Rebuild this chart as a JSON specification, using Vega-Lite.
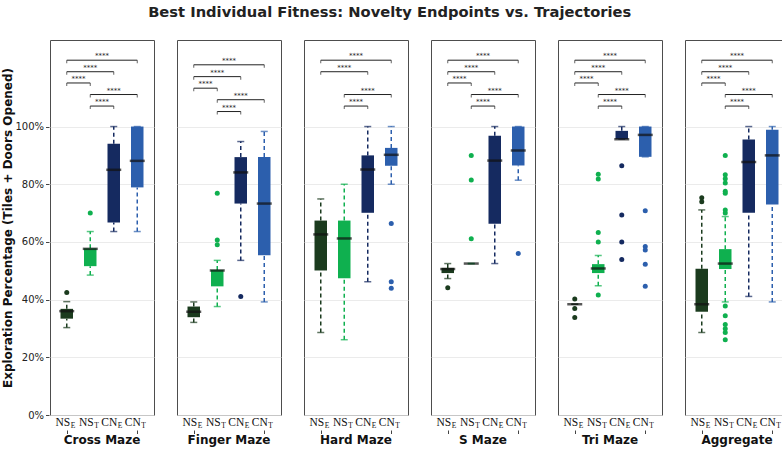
{
  "$schema": "https://vega.github.io/schema/vega-lite/v6.json",
  "padding": {"left": 1, "top": 4, "right": 3, "bottom": 2},
  "title": {"text": "Best Individual Fitness: Novelty Endpoints vs. Trajectories", "font": "DejaVu Sans", "fontSize": 14.7, "fontWeight": "bold", "color": "#222", "anchor": "middle", "offset": 20, "dx": -6},
  "data": {"values": [
    {"kind":"box","maze":"Cross Maze","g":"NS_E","lo":0.303,"q1":0.334,"med":0.360,"q3":0.368,"hi":0.393},
    {"kind":"box","maze":"Cross Maze","g":"NS_T","lo":0.485,"q1":0.516,"med":0.576,"q3":0.578,"hi":0.636},
    {"kind":"box","maze":"Cross Maze","g":"CN_E","lo":0.636,"q1":0.667,"med":0.850,"q3":0.940,"hi":1.0},
    {"kind":"box","maze":"Cross Maze","g":"CN_T","lo":0.636,"q1":0.789,"med":0.881,"q3":1.0,"hi":1.0},
    {"kind":"box","maze":"Finger Maze","g":"NS_E","lo":0.321,"q1":0.339,"med":0.358,"q3":0.376,"hi":0.392},
    {"kind":"box","maze":"Finger Maze","g":"NS_T","lo":0.376,"q1":0.446,"med":0.501,"q3":0.503,"hi":0.536},
    {"kind":"box","maze":"Finger Maze","g":"CN_E","lo":0.536,"q1":0.733,"med":0.841,"q3":0.894,"hi":0.948},
    {"kind":"box","maze":"Finger Maze","g":"CN_T","lo":0.392,"q1":0.554,"med":0.733,"q3":0.894,"hi":0.983},
    {"kind":"box","maze":"Hard Maze","g":"NS_E","lo":0.286,"q1":0.501,"med":0.626,"q3":0.674,"hi":0.749},
    {"kind":"box","maze":"Hard Maze","g":"NS_T","lo":0.261,"q1":0.474,"med":0.612,"q3":0.674,"hi":0.800},
    {"kind":"box","maze":"Hard Maze","g":"CN_E","lo":0.462,"q1":0.701,"med":0.851,"q3":0.900,"hi":1.0},
    {"kind":"box","maze":"Hard Maze","g":"CN_T","lo":0.800,"q1":0.864,"med":0.902,"q3":0.926,"hi":1.0},
    {"kind":"box","maze":"S Maze","g":"NS_E","lo":0.473,"q1":0.492,"med":0.506,"q3":0.510,"hi":0.525},
    {"kind":"box","maze":"S Maze","g":"NS_T","lo":0.525,"q1":0.525,"med":0.525,"q3":0.525,"hi":0.525},
    {"kind":"box","maze":"S Maze","g":"CN_E","lo":0.525,"q1":0.663,"med":0.882,"q3":0.968,"hi":1.0},
    {"kind":"box","maze":"S Maze","g":"CN_T","lo":0.814,"q1":0.865,"med":0.917,"q3":1.0,"hi":1.0},
    {"kind":"box","maze":"Tri Maze","g":"NS_E","lo":0.384,"q1":0.384,"med":0.384,"q3":0.384,"hi":0.384},
    {"kind":"box","maze":"Tri Maze","g":"NS_T","lo":0.448,"q1":0.492,"med":0.508,"q3":0.523,"hi":0.553},
    {"kind":"box","maze":"Tri Maze","g":"CN_E","lo":0.956,"q1":0.956,"med":0.956,"q3":0.985,"hi":1.0},
    {"kind":"box","maze":"Tri Maze","g":"CN_T","lo":0.895,"q1":0.895,"med":0.971,"q3":1.0,"hi":1.0},
    {"kind":"box","maze":"Aggregate","g":"NS_E","lo":0.286,"q1":0.358,"med":0.384,"q3":0.507,"hi":0.711},
    {"kind":"box","maze":"Aggregate","g":"NS_T","lo":0.392,"q1":0.506,"med":0.525,"q3":0.575,"hi":0.688},
    {"kind":"box","maze":"Aggregate","g":"CN_E","lo":0.411,"q1":0.701,"med":0.877,"q3":0.955,"hi":1.0},
    {"kind":"box","maze":"Aggregate","g":"CN_T","lo":0.392,"q1":0.730,"med":0.900,"q3":0.989,"hi":1.0},

    {"kind":"out","maze":"Cross Maze","g":"NS_E","v":0.425},
    {"kind":"out","maze":"Cross Maze","g":"NS_T","v":0.700},
    {"kind":"out","maze":"Finger Maze","g":"NS_T","v":0.769},
    {"kind":"out","maze":"Finger Maze","g":"NS_T","v":0.607},
    {"kind":"out","maze":"Finger Maze","g":"NS_T","v":0.590},
    {"kind":"out","maze":"Finger Maze","g":"CN_E","v":0.411},
    {"kind":"out","maze":"Hard Maze","g":"CN_T","v":0.664},
    {"kind":"out","maze":"Hard Maze","g":"CN_T","v":0.462},
    {"kind":"out","maze":"Hard Maze","g":"CN_T","v":0.439},
    {"kind":"out","maze":"S Maze","g":"NS_E","v":0.441},
    {"kind":"out","maze":"S Maze","g":"NS_T","v":0.900},
    {"kind":"out","maze":"S Maze","g":"NS_T","v":0.815},
    {"kind":"out","maze":"S Maze","g":"NS_T","v":0.611},
    {"kind":"out","maze":"S Maze","g":"CN_T","v":0.560},
    {"kind":"out","maze":"Tri Maze","g":"NS_E","v":0.402},
    {"kind":"out","maze":"Tri Maze","g":"NS_E","v":0.369},
    {"kind":"out","maze":"Tri Maze","g":"NS_E","v":0.338},
    {"kind":"out","maze":"Tri Maze","g":"NS_T","v":0.835},
    {"kind":"out","maze":"Tri Maze","g":"NS_T","v":0.818},
    {"kind":"out","maze":"Tri Maze","g":"NS_T","v":0.633},
    {"kind":"out","maze":"Tri Maze","g":"NS_T","v":0.600},
    {"kind":"out","maze":"Tri Maze","g":"NS_T","v":0.416},
    {"kind":"out","maze":"Tri Maze","g":"CN_E","v":0.864},
    {"kind":"out","maze":"Tri Maze","g":"CN_E","v":0.693},
    {"kind":"out","maze":"Tri Maze","g":"CN_E","v":0.600},
    {"kind":"out","maze":"Tri Maze","g":"CN_E","v":0.539},
    {"kind":"out","maze":"Tri Maze","g":"CN_T","v":0.708},
    {"kind":"out","maze":"Tri Maze","g":"CN_T","v":0.584},
    {"kind":"out","maze":"Tri Maze","g":"CN_T","v":0.572},
    {"kind":"out","maze":"Tri Maze","g":"CN_T","v":0.523},
    {"kind":"out","maze":"Tri Maze","g":"CN_T","v":0.446},
    {"kind":"out","maze":"Aggregate","g":"NS_E","v":0.753},
    {"kind":"out","maze":"Aggregate","g":"NS_E","v":0.739},
    {"kind":"out","maze":"Aggregate","g":"NS_T","v":0.900},
    {"kind":"out","maze":"Aggregate","g":"NS_T","v":0.833},
    {"kind":"out","maze":"Aggregate","g":"NS_T","v":0.819},
    {"kind":"out","maze":"Aggregate","g":"NS_T","v":0.804},
    {"kind":"out","maze":"Aggregate","g":"NS_T","v":0.776},
    {"kind":"out","maze":"Aggregate","g":"NS_T","v":0.769},
    {"kind":"out","maze":"Aggregate","g":"NS_T","v":0.711},
    {"kind":"out","maze":"Aggregate","g":"NS_T","v":0.700},
    {"kind":"out","maze":"Aggregate","g":"NS_T","v":0.378},
    {"kind":"out","maze":"Aggregate","g":"NS_T","v":0.344},
    {"kind":"out","maze":"Aggregate","g":"NS_T","v":0.314},
    {"kind":"out","maze":"Aggregate","g":"NS_T","v":0.299},
    {"kind":"out","maze":"Aggregate","g":"NS_T","v":0.286},
    {"kind":"out","maze":"Aggregate","g":"NS_T","v":0.261},

    {"kind":"br","maze":"Cross Maze","a":"NS_E","b":"CN_T","lvl":1.230,"sig":"****"},
    {"kind":"br","maze":"Cross Maze","a":"NS_E","b":"CN_E","lvl":1.190,"sig":"****"},
    {"kind":"br","maze":"Cross Maze","a":"NS_E","b":"NS_T","lvl":1.151,"sig":"****"},
    {"kind":"br","maze":"Cross Maze","a":"NS_T","b":"CN_T","lvl":1.111,"sig":"****"},
    {"kind":"br","maze":"Cross Maze","a":"NS_T","b":"CN_E","lvl":1.071,"sig":"****"},
    {"kind":"br","maze":"Finger Maze","a":"NS_E","b":"CN_T","lvl":1.214,"sig":"****"},
    {"kind":"br","maze":"Finger Maze","a":"NS_E","b":"CN_E","lvl":1.173,"sig":"****"},
    {"kind":"br","maze":"Finger Maze","a":"NS_E","b":"NS_T","lvl":1.133,"sig":"****"},
    {"kind":"br","maze":"Finger Maze","a":"NS_T","b":"CN_T","lvl":1.093,"sig":"****"},
    {"kind":"br","maze":"Finger Maze","a":"NS_T","b":"CN_E","lvl":1.052,"sig":"****"},
    {"kind":"br","maze":"Hard Maze","a":"NS_E","b":"CN_T","lvl":1.230,"sig":"****"},
    {"kind":"br","maze":"Hard Maze","a":"NS_E","b":"CN_E","lvl":1.190,"sig":"****"},
    {"kind":"br","maze":"Hard Maze","a":"NS_T","b":"CN_T","lvl":1.111,"sig":"****"},
    {"kind":"br","maze":"Hard Maze","a":"NS_T","b":"CN_E","lvl":1.071,"sig":"****"},
    {"kind":"br","maze":"S Maze","a":"NS_E","b":"CN_T","lvl":1.230,"sig":"****"},
    {"kind":"br","maze":"S Maze","a":"NS_E","b":"CN_E","lvl":1.190,"sig":"****"},
    {"kind":"br","maze":"S Maze","a":"NS_E","b":"NS_T","lvl":1.151,"sig":"****"},
    {"kind":"br","maze":"S Maze","a":"NS_T","b":"CN_T","lvl":1.111,"sig":"****"},
    {"kind":"br","maze":"S Maze","a":"NS_T","b":"CN_E","lvl":1.071,"sig":"****"},
    {"kind":"br","maze":"Tri Maze","a":"NS_E","b":"CN_T","lvl":1.230,"sig":"****"},
    {"kind":"br","maze":"Tri Maze","a":"NS_E","b":"CN_E","lvl":1.190,"sig":"****"},
    {"kind":"br","maze":"Tri Maze","a":"NS_E","b":"NS_T","lvl":1.151,"sig":"****"},
    {"kind":"br","maze":"Tri Maze","a":"NS_T","b":"CN_T","lvl":1.111,"sig":"****"},
    {"kind":"br","maze":"Tri Maze","a":"NS_T","b":"CN_E","lvl":1.071,"sig":"****"},
    {"kind":"br","maze":"Aggregate","a":"NS_E","b":"CN_T","lvl":1.230,"sig":"****"},
    {"kind":"br","maze":"Aggregate","a":"NS_E","b":"CN_E","lvl":1.190,"sig":"****"},
    {"kind":"br","maze":"Aggregate","a":"NS_E","b":"NS_T","lvl":1.151,"sig":"****"},
    {"kind":"br","maze":"Aggregate","a":"NS_T","b":"CN_T","lvl":1.111,"sig":"****"},
    {"kind":"br","maze":"Aggregate","a":"NS_T","b":"CN_E","lvl":1.071,"sig":"****"}
  ]},
  "transform": [
    {"calculate": "indexof(['NS_E','NS_T','CN_E','CN_T'], datum.g) + 1", "as": "pos"},
    {"calculate": "indexof(['NS_E','NS_T','CN_E','CN_T'], datum.a) + 1", "as": "pa"},
    {"calculate": "indexof(['NS_E','NS_T','CN_E','CN_T'], datum.b) + 1", "as": "pb"},
    {"calculate": "(datum.pa + datum.pb) / 2", "as": "mid"},
    {"calculate": "datum.g ? slice(datum.g, 0, 2) : ''", "as": "lab"},
    {"calculate": "datum.g ? slice(datum.g, 3) : ''", "as": "sub"}
  ],
  "facet": {"column": {"field": "maze", "type": "nominal", "sort": ["Cross Maze", "Finger Maze", "Hard Maze", "S Maze", "Tri Maze", "Aggregate"], "title": null,
    "header": {"labelOrient": "bottom", "labelFont": "DejaVu Sans", "labelFontSize": 12, "labelFontWeight": "bold", "labelColor": "#111", "labelPadding": 1}}},
  "spacing": 21,
  "spec": {
    "width": 104,
    "height": 375,
    "layer": [
      {"transform": [{"filter": "datum.kind === 'box'"}],
       "mark": {"type": "rule", "strokeDash": [4, 3], "strokeWidth": 1.5},
       "encoding": {
         "x": {"field": "pos", "type": "quantitative", "scale": {"domain": [0.5, 4.5], "nice": false, "zero": false},
               "axis": {"title": null, "values": [1, 2, 3, 4], "labels": false, "tickSize": 3.5, "tickColor": "#444", "domain": false, "grid": false}},
         "y": {"field": "lo", "type": "quantitative", "scale": {"domain": [0, 1.3], "nice": false, "zero": false},
               "axis": {"title": "Exploration Percentage (Tiles + Doors Opened)", "values": [0, 0.2, 0.4, 0.6, 0.8, 1.0], "format": ".0%",
                        "titleFont": "DejaVu Sans", "titleFontSize": 12, "titleFontWeight": "bold", "titleColor": "#111", "titlePadding": 0,
                        "labelFont": "DejaVu Sans", "labelFontSize": 10, "labelColor": "#222", "labelPadding": 2,
                        "tickSize": 3.5, "tickColor": "#444", "domain": false,
                        "grid": true, "gridColor": "#e6e6e6", "gridWidth": 0.8}},
         "y2": {"field": "q1"},
         "color": {"field": "g", "type": "nominal", "scale": {"domain": ["NS_E", "NS_T", "CN_E", "CN_T"], "range": ["#1b3b1e", "#0fb04f", "#152a60", "#2c5fad"]}, "legend": null}
       }},
      {"transform": [{"filter": "datum.kind === 'box'"}],
       "mark": {"type": "rule", "strokeDash": [4, 3], "strokeWidth": 1.5},
       "encoding": {
         "x": {"field": "pos", "type": "quantitative"},
         "y": {"field": "q3", "type": "quantitative"},
         "y2": {"field": "hi"},
         "color": {"field": "g", "type": "nominal", "legend": null}
       }},
      {"transform": [{"filter": "datum.kind === 'box'"}],
       "mark": {"type": "tick", "orient": "horizontal", "size": 7, "thickness": 1.5},
       "encoding": {
         "x": {"field": "pos", "type": "quantitative"},
         "y": {"field": "lo", "type": "quantitative"},
         "color": {"field": "g", "type": "nominal", "legend": null}
       }},
      {"transform": [{"filter": "datum.kind === 'box'"}],
       "mark": {"type": "tick", "orient": "horizontal", "size": 7, "thickness": 1.5},
       "encoding": {
         "x": {"field": "pos", "type": "quantitative"},
         "y": {"field": "hi", "type": "quantitative"},
         "color": {"field": "g", "type": "nominal", "legend": null}
       }},
      {"transform": [{"filter": "datum.kind === 'box'"}],
       "mark": {"type": "bar", "size": 12.5, "opacity": 1},
       "encoding": {
         "x": {"field": "pos", "type": "quantitative"},
         "y": {"field": "q1", "type": "quantitative"},
         "y2": {"field": "q3"},
         "color": {"field": "g", "type": "nominal", "legend": null}
       }},
      {"transform": [{"filter": "datum.kind === 'box'"}],
       "mark": {"type": "tick", "orient": "horizontal", "size": 15, "thickness": 2.5, "color": "#111"},
       "encoding": {
         "x": {"field": "pos", "type": "quantitative"},
         "y": {"field": "med", "type": "quantitative"}
       }},
      {"transform": [{"filter": "datum.kind === 'out'"}],
       "mark": {"type": "point", "filled": true, "size": 25, "opacity": 1},
       "encoding": {
         "x": {"field": "pos", "type": "quantitative"},
         "y": {"field": "v", "type": "quantitative"},
         "color": {"field": "g", "type": "nominal", "legend": null}
       }},
      {"transform": [{"filter": "datum.kind === 'br'"}],
       "mark": {"type": "rule", "strokeWidth": 1, "color": "#222"},
       "encoding": {
         "x": {"field": "pa", "type": "quantitative"},
         "x2": {"field": "pb"},
         "y": {"field": "lvl", "type": "quantitative"}
       }},
      {"transform": [{"filter": "datum.kind === 'br'"}],
       "mark": {"type": "tick", "orient": "vertical", "size": 3, "thickness": 1, "color": "#222", "yOffset": 1.5},
       "encoding": {
         "x": {"field": "pa", "type": "quantitative"},
         "y": {"field": "lvl", "type": "quantitative"}
       }},
      {"transform": [{"filter": "datum.kind === 'br'"}],
       "mark": {"type": "tick", "orient": "vertical", "size": 3, "thickness": 1, "color": "#222", "yOffset": 1.5},
       "encoding": {
         "x": {"field": "pb", "type": "quantitative"},
         "y": {"field": "lvl", "type": "quantitative"}
       }},
      {"transform": [{"filter": "datum.kind === 'br'"}],
       "mark": {"type": "text", "font": "DejaVu Sans", "fontSize": 7, "baseline": "bottom", "dy": -1, "color": "#222"},
       "encoding": {
         "x": {"field": "mid", "type": "quantitative"},
         "y": {"field": "lvl", "type": "quantitative"},
         "text": {"field": "sig"}
       }},
      {"transform": [{"filter": "datum.kind === 'box'"}],
       "mark": {"type": "text", "font": "Liberation Serif", "fontSize": 11.5, "baseline": "top", "align": "right", "dx": 3.5, "dy": 2, "color": "#111"},
       "encoding": {
         "x": {"field": "pos", "type": "quantitative"},
         "y": {"datum": 0},
         "text": {"field": "lab"}
       }},
      {"transform": [{"filter": "datum.kind === 'box'"}],
       "mark": {"type": "text", "font": "Liberation Serif", "fontSize": 7.5, "baseline": "top", "align": "left", "dx": 4, "dy": 7, "color": "#111"},
       "encoding": {
         "x": {"field": "pos", "type": "quantitative"},
         "y": {"datum": 0},
         "text": {"field": "sub"}
       }}
    ]
  },
  "config": {"view": {"stroke": "#4d4d4d", "strokeWidth": 1}}
}
